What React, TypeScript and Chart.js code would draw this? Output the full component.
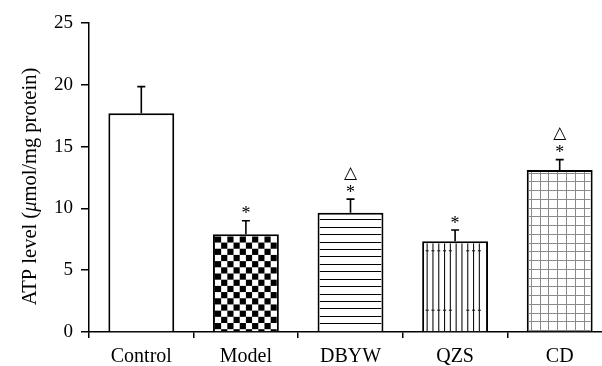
import React, { useEffect, useRef } from "react";
import { Chart, registerables } from "chart.js";

Chart.register(...registerables);

const categories = ["Control", "Model", "DBYW", "QZS", "CD"];
const atpMeans = [17.7, 7.9, 9.65, 7.35, 13.1];
const atpErrors = [2.15, 1.1, 1.1, 0.9, 0.85];
const starMarks = ["", "*", "*", "*", "*"];
const triangleMarks = ["", "", "△", "", "△"];
const fillPatterns = ["none", "checker", "hlines", "vlines", "grid"];
const yTicks = [0, 5, 10, 15, 20, 25];

const SERIF = "'Liberation Serif', 'DejaVu Serif', serif";

function drawPattern(ctx: CanvasRenderingContext2D, kind: string, l: number, t: number, r: number, b: number) {
  ctx.save();
  ctx.beginPath();
  ctx.rect(l, t, r - l, b - t);
  ctx.clip();
  if (kind === "checker") {
    const s = (r - l) / 10;
    ctx.fillStyle = "#000";
    for (let j = 0; t + j * s < b; j++) {
      for (let i = 0; i < 10; i++) {
        if ((i + j) % 2 === 0) ctx.fillRect(l + i * s, t + j * s, s, s);
      }
    }
  } else if (kind === "hlines") {
    ctx.strokeStyle = "#000";
    ctx.lineWidth = 1;
    for (let y = t + 4.6; y < b - 2; y += 7.43) {
      const yy = Math.round(y) + 0.5;
      ctx.beginPath();
      ctx.moveTo(l, yy);
      ctx.lineTo(r, yy);
      ctx.stroke();
    }
  } else if (kind === "vlines") {
    ctx.strokeStyle = "#111";
    ctx.lineWidth = 1.1;
    const xs: number[] = [];
    for (let x = l + 3; x < r - 1; x += 5.8) xs.push(x);
    xs.forEach((x) => {
      ctx.beginPath();
      ctx.moveTo(x, t);
      ctx.lineTo(x, b);
      ctx.stroke();
    });
    ctx.fillStyle = "#222";
    [b - 80.5, b - 21].forEach((y) => {
      if (y > t) xs.forEach((x, k) => {
        if (k !== 5 && k !== 6) ctx.fillRect(x - 1.5, y - 0.6, 3, 1.2);
      });
    });
  } else if (kind === "grid") {
    ctx.strokeStyle = "#8a8a8a";
    ctx.lineWidth = 1;
    for (let x = l + 2; x < r; x += 8.8) {
      const xx = Math.round(x) + 0.5;
      ctx.beginPath();
      ctx.moveTo(xx, t);
      ctx.lineTo(xx, b);
      ctx.stroke();
    }
    for (let y = t + 0.5; y < b; y += 8.75) {
      const yy = Math.round(y) + 0.5;
      ctx.beginPath();
      ctx.moveTo(l, yy);
      ctx.lineTo(r, yy);
      ctx.stroke();
    }
  }
  ctx.restore();
}

const decorPlugin = {
  id: "decor",
  afterDatasetsDraw(chart: any) {
    const ctx: CanvasRenderingContext2D = chart.ctx;
    const meta = chart.getDatasetMeta(0);
    const yScale = chart.scales.y;
    const bw = 2;
    meta.data.forEach((bar: any, i: number) => {
      const { x, y, width, base } = bar.getProps(["x", "y", "width", "base"], true);
      const l = x - width / 2 + bw;
      const r = x + width / 2 - bw;
      drawPattern(ctx, fillPatterns[i], l, y + bw, r, base);

      // error bar (upper only)
      const ep = yScale.getPixelForValue(atpMeans[i] + atpErrors[i]);
      ctx.save();
      ctx.strokeStyle = "#000";
      ctx.lineWidth = 1.6;
      ctx.beginPath();
      ctx.moveTo(x, y);
      ctx.lineTo(x, ep);
      ctx.moveTo(x - 4, ep);
      ctx.lineTo(x + 4, ep);
      ctx.stroke();

      ctx.fillStyle = "#000";
      ctx.textAlign = "center";
      ctx.textBaseline = "alphabetic";
      if (starMarks[i]) {
        ctx.font = `18px ${SERIF}`;
        const m = ctx.measureText(starMarks[i]);
        const cy = ep - 11;
        ctx.fillText(starMarks[i], x, cy + (m.actualBoundingBoxAscent - m.actualBoundingBoxDescent) / 2);
      }
      if (triangleMarks[i]) {
        ctx.font = `17px 'DejaVu Sans', sans-serif`;
        const m = ctx.measureText(triangleMarks[i]);
        const cy = ep - 26.5;
        ctx.fillText(triangleMarks[i], x, cy + (m.actualBoundingBoxAscent - m.actualBoundingBoxDescent) / 2);
      }
      ctx.restore();
    });
  },
  afterDraw(chart: any) {
    const ctx: CanvasRenderingContext2D = chart.ctx;
    const parts = [
      { t: "ATP level (", f: `20.5px ${SERIF}` },
      { t: "μ", f: `italic 20.5px ${SERIF}` },
      { t: "mol/mg protein)", f: `20.5px ${SERIF}` },
    ];
    ctx.save();
    let total = 0;
    parts.forEach((p) => {
      ctx.font = p.f;
      total += ctx.measureText(p.t).width;
    });
    ctx.translate(36, 186.5);
    ctx.rotate(-Math.PI / 2);
    ctx.fillStyle = "#000";
    ctx.textBaseline = "alphabetic";
    ctx.textAlign = "left";
    let cx = -total / 2;
    parts.forEach((p) => {
      ctx.font = p.f;
      ctx.fillText(p.t, cx, 0);
      cx += ctx.measureText(p.t).width;
    });
    ctx.restore();
  },
};

export default function App() {
  const ref = useRef<HTMLCanvasElement | null>(null);

  useEffect(() => {
    if (!ref.current) return;
    const chart = new Chart(ref.current, {
      type: "bar",
      data: {
        labels: categories,
        datasets: [
          {
            data: atpMeans,
            backgroundColor: "#ffffff",
            borderColor: "#000000",
            borderWidth: 2,
            borderSkipped: "start",
            barPercentage: 0.63,
            categoryPercentage: 1,
          },
        ],
      },
      options: {
        animation: false,
        responsive: false,
        devicePixelRatio: 1,
        layout: { padding: { top: 23, right: 0, left: 0, bottom: 0 } },
        plugins: {
          legend: { display: false },
          tooltip: { enabled: false },
          title: { display: false },
        },
        scales: {
          x: {
            offset: true,
            grid: {
              offset: true,
              drawOnChartArea: false,
              drawTicks: true,
              tickLength: 6,
              color: "#000",
              lineWidth: 1.5,
            },
            border: { color: "#000", width: 1.5 },
            ticks: {
              color: "#000",
              font: { family: SERIF, size: 20 },
              padding: 7,
              maxRotation: 0,
            },
            afterFit: (s: any) => {
              s.height = 34;
            },
          },
          y: {
            min: 0,
            max: 25,
            afterBuildTicks: (s: any) => {
              s.ticks = yTicks.map((v) => ({ value: v }));
            },
            grid: {
              drawOnChartArea: false,
              drawTicks: true,
              tickLength: 8,
              color: "#000",
              lineWidth: 1.5,
            },
            border: { color: "#000", width: 1.5 },
            ticks: {
              color: "#000",
              font: { family: SERIF, size: 19 },
              padding: 8,
            },
            afterFit: (s: any) => {
              s.width = 89;
            },
          },
        },
      },
      plugins: [decorPlugin],
    });
    return () => chart.destroy();
  }, []);

  return (
    <div
      style={{
        position: "fixed",
        left: 0,
        top: 0,
        width: 602,
        height: 366,
        overflow: "hidden",
        background: "#fff",
      }}
    >
      <canvas ref={ref} width={612} height={366} style={{ display: "block" }} />
    </div>
  );
}
